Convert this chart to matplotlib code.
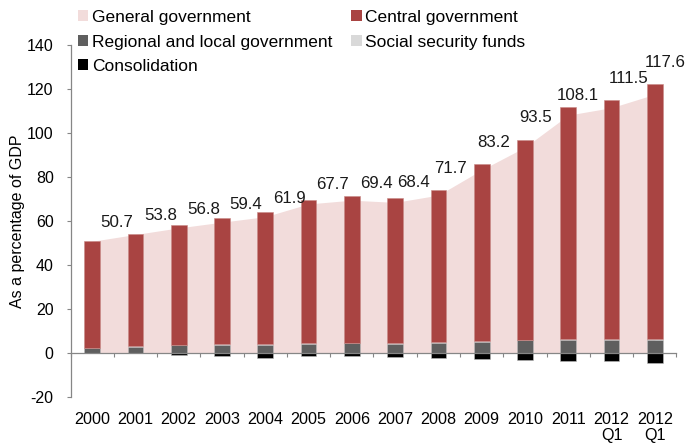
import numpy as np
import matplotlib
matplotlib.use("Agg")
import matplotlib.pyplot as plt
from matplotlib.patches import Patch
from matplotlib.ticker import FixedLocator

# Public debt by sub-sector, % of GDP
periods = ["2000", "2001", "2002", "2003", "2004", "2005", "2006",
           "2007", "2008", "2009", "2010", "2011", "2012\nQ1", "2012\nQ1"]
general_gov = [50.7, 53.8, 56.8, 59.4, 61.9, 67.7, 69.4,
               68.4, 71.7, 83.2, 93.5, 108.1, 111.5, 117.6]
central_gov = [48.7, 50.8, 54.6, 57.2, 60.1, 64.9, 66.6,
               65.9, 69.3, 80.6, 90.9, 105.5, 108.9, 115.8]
regional_local = [2.0, 2.8, 3.4, 3.7, 3.7, 4.2, 4.3,
                  4.2, 4.6, 5.1, 5.7, 6.0, 6.0, 6.0]
social_security = [0.3, 0.3, 0.3, 0.3, 0.3, 0.3, 0.3,
                   0.3, 0.3, 0.3, 0.3, 0.3, 0.3, 0.3]
consolidation = [0.0, 0.0, -1.2, -1.7, -2.2, -1.7, -1.7,
                 -2.0, -2.5, -2.8, -3.4, -3.7, -3.7, -4.5]

# label placement for the general-government values (pixel offsets from each point)
label_dx = [25, 25, 25, 24, 24, 24, 25, 18, 12, 12, 11, 10, 17, 10]
label_dy = [19, 19, 18, 18, 18, 19, 17, 20, 27, 27, 30, 20, 29, 32]

C_GENERAL = "#F2DCDB"
C_CENTRAL = "#A94442"
C_REGIONAL = "#5F5F5F"
C_SOCIAL = "#D9D9D9"
C_CONSOL = "#000000"
C_AXIS = "#868686"

plt.rcParams["font.family"] = ["Liberation Sans", "DejaVu Sans"]
plt.rcParams["axes.unicode_minus"] = False

fig = plt.figure(figsize=(6.85, 4.47), dpi=100)
ax = fig.add_axes([70.5 / 685, 1 - 396.7 / 447, 606 / 685, (396.7 - 45) / 447])

x = np.arange(len(periods))
regional = np.array(regional_local)
social = np.array(social_security)
central = np.array(central_gov)

ax.fill_between(x, 0, general_gov, color=C_GENERAL, linewidth=0, zorder=1)

w = 0.36
edge = dict(edgecolor="#BDBDBD", linewidth=0.4)
ax.bar(x, regional, w, color=C_REGIONAL, zorder=2, **edge)
ax.bar(x, social, w, bottom=regional, color=C_SOCIAL, zorder=2, linewidth=0)
ax.bar(x, central, w, bottom=regional + social, color=C_CENTRAL, zorder=2,
       edgecolor="#C98A88", linewidth=0.4)
ax.bar(x, consolidation, w, color=C_CONSOL, zorder=2, **edge)

for xi, v, dx, dy in zip(x, general_gov, label_dx, label_dy):
    ax.annotate(f"{v:.1f}", (xi, v), xytext=(dx, dy), textcoords="offset pixels",
                ha="center", va="center", fontsize=12.2, color="#1a1a1a",
                annotation_clip=False, zorder=4)

ax.set_xlim(-0.5, len(periods) - 0.5)
ax.set_ylim(-20, 140)
ax.set_yticks(np.arange(-20, 141, 20))
ax.tick_params(axis="y", direction="out", length=4.3 * 0.72, width=0.8,
               color=C_AXIS, labelsize=11.5, pad=9)

# horizontal axis sits on zero; category separators as minor ticks
ax.spines["bottom"].set_position(("data", 0))
ax.spines["bottom"].set_color(C_AXIS)
ax.spines["bottom"].set_linewidth(0.9)
ax.spines["bottom"].set_zorder(3)
ax.spines["left"].set_color(C_AXIS)
ax.spines["left"].set_linewidth(0.9)
ax.spines["top"].set_visible(False)
ax.spines["right"].set_visible(False)

ax.set_xticks(x)
ax.set_xticklabels(periods, linespacing=1.05)
ax.xaxis.set_minor_locator(FixedLocator(np.arange(len(periods) + 1) - 0.5))
ax.tick_params(axis="x", which="major", length=0, labelsize=11.6, pad=43)
ax.tick_params(axis="x", which="minor", direction="out", length=4.3 * 0.72,
               width=0.8, color=C_AXIS)

ax.set_ylabel("As a percentage of GDP", fontsize=11.5)
ax.yaxis.set_label_coords(-(70.5 - 25) / 606, 0.5)

handles = [
    Patch(facecolor=C_GENERAL, label="General government"),
    Patch(facecolor=C_REGIONAL, label="Regional and local government"),
    Patch(facecolor=C_CONSOL, label="Consolidation"),
    Patch(facecolor=C_CENTRAL, label="Central government"),
    Patch(facecolor=C_SOCIAL, label="Social security funds"),
]
fig.legend(handles=handles, ncol=2, loc="upper left",
           bbox_to_anchor=(78 / 685, 1 - 10 / 447), frameon=False,
           fontsize=12.5, handlelength=0.6, handleheight=0.6,
           handletextpad=0.2, labelspacing=0.55, columnspacing=1.1,
           borderpad=0, borderaxespad=0)

fig.savefig("out.png", dpi=100)
